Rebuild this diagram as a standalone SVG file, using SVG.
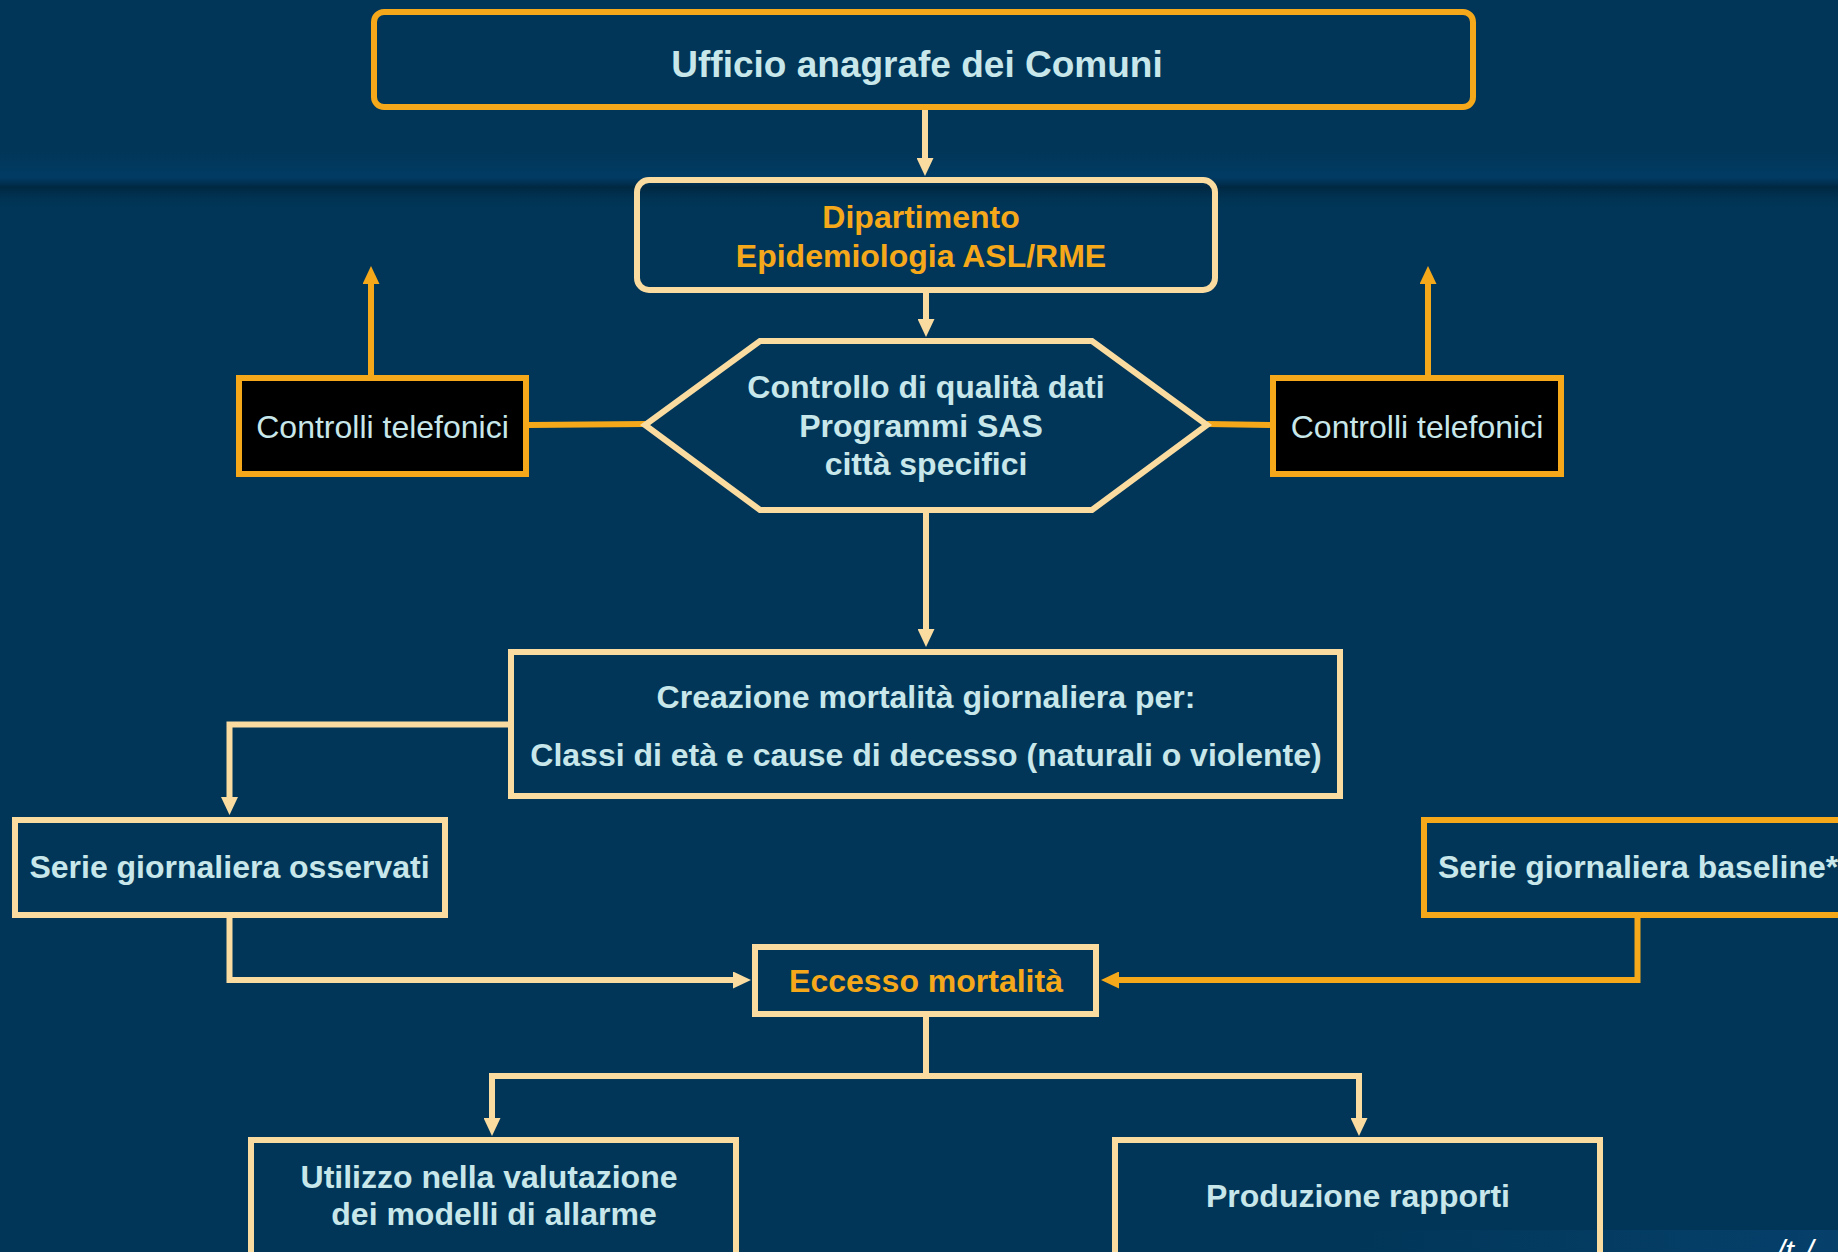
<svg xmlns="http://www.w3.org/2000/svg" width="1838" height="1252" viewBox="0 0 1838 1252">
<defs>
<linearGradient id="band" x1="0" y1="0" x2="0" y2="1">
<stop offset="0" stop-color="#003a63" stop-opacity="0"/>
<stop offset="0.45" stop-color="#013d68" stop-opacity="0.8"/>
<stop offset="0.62" stop-color="#00263f" stop-opacity="0.9"/>
<stop offset="1" stop-color="#003656" stop-opacity="0"/>
</linearGradient>
<linearGradient id="corner" x1="0" y1="0" x2="1" y2="0">
<stop offset="0" stop-color="#0a4a7e" stop-opacity="0"/>
<stop offset="1" stop-color="#0a4a7e" stop-opacity="0.5"/>
</linearGradient>
<marker id="ap" viewBox="0 0 18 17" markerWidth="18" markerHeight="17" refX="1" refY="8.5" orient="auto" markerUnits="userSpaceOnUse">
<path d="M0,0 L18,8.5 L0,17 z" fill="#FADBA0"/>
</marker>
<marker id="ao" viewBox="0 0 18 17" markerWidth="18" markerHeight="17" refX="1" refY="8.5" orient="auto" markerUnits="userSpaceOnUse">
<path d="M0,0 L18,8.5 L0,17 z" fill="#F5A81A"/>
</marker>
</defs>
<style>
.t{font-family:"Liberation Sans",Arial,sans-serif;font-weight:bold;font-size:32px;fill:#C8E7EA;text-anchor:middle}
.o{fill:#F5A81A}
.r{font-weight:normal}
.bp{fill:none;stroke:#FADBA0;stroke-width:6}
.bo{fill:none;stroke:#F5A81A;stroke-width:6}
.cp{fill:none;stroke:#FADBA0;stroke-width:6}
.co{fill:none;stroke:#F5A81A;stroke-width:6}
</style>
<rect width="1838" height="1252" fill="#013658"/>
<rect x="0" y="150" width="1838" height="60" fill="url(#band)"/>
<rect x="1350" y="1230" width="488" height="22" fill="url(#corner)"/>

<g id="connectors">
<path class="cp" d="M925,110 V159" marker-end="url(#ap)"/>
<path class="cp" d="M926,293 V320" marker-end="url(#ap)"/>
<path class="cp" d="M926,513 V630" marker-end="url(#ap)"/>
<path class="co" d="M529,425 L645,424"/>
<path class="co" d="M1207,424 L1270,425"/>
<path class="co" d="M371,375 V283" marker-end="url(#ao)"/>
<path class="co" d="M1428,375 V283" marker-end="url(#ao)"/>
<path class="cp" d="M511,724.5 H229.5 V798" marker-end="url(#ap)"/>
<path class="cp" d="M229.5,918 V980 H734" marker-end="url(#ap)"/>
<path class="co" d="M1637.5,918 V980 H1118" marker-end="url(#ao)"/>
<path class="cp" d="M926,1017 V1076"/>
<path class="cp" d="M489,1076 H1362"/>
<path class="cp" d="M492,1076 V1119" marker-end="url(#ap)"/>
<path class="cp" d="M1359,1076 V1119" marker-end="url(#ap)"/>
</g>

<g id="ufficio">
<rect class="bo" x="374" y="12" width="1099" height="95" rx="10"/>
<text class="t" x="917" y="77" style="font-size:37px">Ufficio anagrafe dei Comuni</text>
</g>

<g id="dipartimento">
<rect class="bp" x="637" y="180" width="578" height="110" rx="12"/>
<text class="t o" x="921" y="228">Dipartimento</text>
<text class="t o" x="921" y="267">Epidemiologia ASL/RME</text>
</g>

<g id="controllo">
<polygon class="bp" points="760,341 1092,341 1207,425 1092,510 760,510 645,425"/>
<text class="t" x="926" y="398">Controllo di qualità dati</text>
<text class="t" x="921" y="437">Programmi SAS</text>
<text class="t" x="926" y="475">città specifici</text>
</g>

<g id="telefonici-sx">
<rect x="239" y="378" width="287" height="96" fill="#000" stroke="#F5A81A" stroke-width="6"/>
<text class="t r" x="382.5" y="438">Controlli telefonici</text>
</g>

<g id="telefonici-dx">
<rect x="1273" y="378" width="288" height="96" fill="#000" stroke="#F5A81A" stroke-width="6"/>
<text class="t r" x="1417" y="438">Controlli telefonici</text>
</g>

<g id="creazione">
<rect class="bp" x="511" y="652" width="829" height="144"/>
<text class="t" x="926" y="708">Creazione mortalità giornaliera per:</text>
<text class="t" x="926" y="766">Classi di età e cause di decesso (naturali o violente)</text>
</g>

<g id="osservati">
<rect class="bp" x="15" y="820" width="430" height="95"/>
<text class="t" x="229.5" y="878">Serie giornaliera osservati</text>
</g>

<g id="baseline">
<rect class="bo" x="1424" y="820" width="450" height="95"/>
<text class="t" x="1438" y="878" style="text-anchor:start">Serie giornaliera baseline*</text>
</g>

<g id="eccesso">
<rect class="bp" x="755" y="947" width="341" height="67"/>
<text class="t o" x="926" y="992">Eccesso mortalità</text>
</g>

<g id="utilizzo">
<rect class="bp" x="251" y="1140" width="485" height="150"/>
<text class="t" x="489" y="1188">Utilizzo nella valutazione</text>
<text class="t" x="494" y="1225">dei modelli di allarme</text>
</g>

<g id="rapporti">
<rect class="bp" x="1115" y="1140" width="485" height="150"/>
<text class="t" x="1358" y="1207">Produzione rapporti</text>
</g>

<text x="1776" y="1262" font-family="Liberation Sans, Arial, sans-serif" font-size="32" font-style="italic" fill="#ffffff">/t-/</text>
</svg>
